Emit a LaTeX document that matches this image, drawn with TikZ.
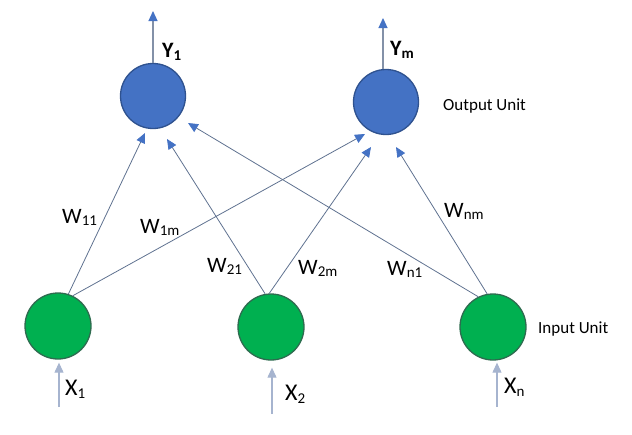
\documentclass[tikz,border=0pt]{standalone}
\usepackage{fontspec}
\setmainfont{Carlito}
\usetikzlibrary{arrows.meta,calc}
\definecolor{outblue}{HTML}{4472C4}
\definecolor{outborder}{HTML}{2F528F}
\definecolor{ingreen}{HTML}{00B050}
\definecolor{inborder}{HTML}{2E6B4F}
\definecolor{wline}{HTML}{5F7290}
\definecolor{inarrow}{HTML}{A6B4CF}
\definecolor{outline}{HTML}{8391A8}
\newcommand{\bigtxt}{\fontsize{22}{24}\selectfont}
\newcommand{\subtxt}{\fontsize{15}{16}\selectfont}
\newcommand{\wlab}[2]{{\bigtxt W\raisebox{-2pt}{\subtxt #2}}}
\newcommand{\xlab}[1]{{\fontsize{24}{26}\selectfont X\raisebox{-3pt}{\fontsize{15}{16}\selectfont #1}}}
\newcommand{\ylab}[1]{{\bfseries\fontsize{22}{24}\selectfont Y\raisebox{-3pt}{\fontsize{15}{16}\selectfont #1}}}
\tikzset{
  outunit/.style={circle, minimum size=65pt, inner sep=0pt, fill=outblue, draw=outborder, line width=1.3pt},
  inunit/.style={circle, minimum size=66pt, inner sep=0pt, fill=ingreen, draw=inborder, line width=1.3pt},
  weight/.style={draw=wline, line width=0.8pt, -{Triangle[length=10pt,width=9pt,color=outblue]}},
  inarr/.style={draw=inarrow, line width=1.1pt, -{Triangle[length=10pt,width=9pt,color=inarrow]}},
  outarr/.style={draw=outline, line width=1.1pt, -{Triangle[length=10pt,width=9pt,color=outblue]}},
  lab/.style={anchor=base west, inner sep=0pt},
  unitlab/.style={anchor=base west, inner sep=0pt, font=\fontsize{17}{18}\selectfont}
}
\begin{document}
\begin{tikzpicture}[x=1pt,y=-1pt]
\useasboundingbox (0,0) rectangle (632,434);
% units
\node[outunit] (Y1) at (153,96) {};
\node[outunit] (Ym) at (386,102) {};
\node[inunit] (X1) at (58,326) {};
\node[inunit] (X2) at (271,327) {};
\node[inunit] (Xn) at (493,327) {};
% weight connectors
\draw[weight] (X1.72.6) -- ($(Y1.center)+(-8,37)$);
\draw[weight] (X1.64) -- ($(Ym.center)+(-21,32)$);
\draw[weight] (X2.100) -- ($(Y1.center)+(14,43)$);
\draw[weight] (X2.93) -- ($(Ym.center)+(-15,45)$);
\draw[weight] (Xn.116) -- ($(Y1.center)+(35,27)$);
\draw[weight] (Xn.100) -- ($(Ym.center)+(10,45)$);
% output arrows
\coordinate (y1out) at (153,11);
\coordinate (ymout) at (383,18);
\draw[outarr] (Y1.north) -- (y1out);
\draw[outarr] (ymout |- Ym.north) -- (ymout);
% input arrows
\coordinate (x1in) at (59,407);
\coordinate (x2in) at (272,414);
\coordinate (xnin) at (497,407);
\draw[inarr, shorten >=3pt] (x1in) -- (x1in |- X1.south);
\draw[inarr, shorten >=7pt] (x2in) -- (x2in |- X2.south);
\draw[inarr, shorten >=2pt] (xnin) -- (xnin |- Xn.south);
% labels
\node[lab] (ly1) at (162,57) {\ylab{1}};
\node[lab] (lym) at (390,55) {\ylab{m}};
\node[unitlab] (lout) at (443,110) {Output Unit};
\node[unitlab] (lin) at (538,333) {Input Unit};
\node[lab] (w11) at (62,223) {\wlab{}{11}};
\node[lab] (w1m) at (140,233) {\wlab{}{1m}};
\node[lab] (w21) at (207,272) {\wlab{}{21}};
\node[lab] (w2m) at (298,274) {\wlab{}{2m}};
\node[lab] (wn1) at (387,275) {\wlab{}{n1}};
\node[lab] (wnm) at (444,217) {\wlab{}{nm}};
\node[lab] (lx1) at (65,395) {\xlab{1}};
\node[lab] (lx2) at (285,400) {\xlab{2}};
\node[lab] (lxn) at (504,393) {\xlab{n}};
\end{tikzpicture}
\end{document}
